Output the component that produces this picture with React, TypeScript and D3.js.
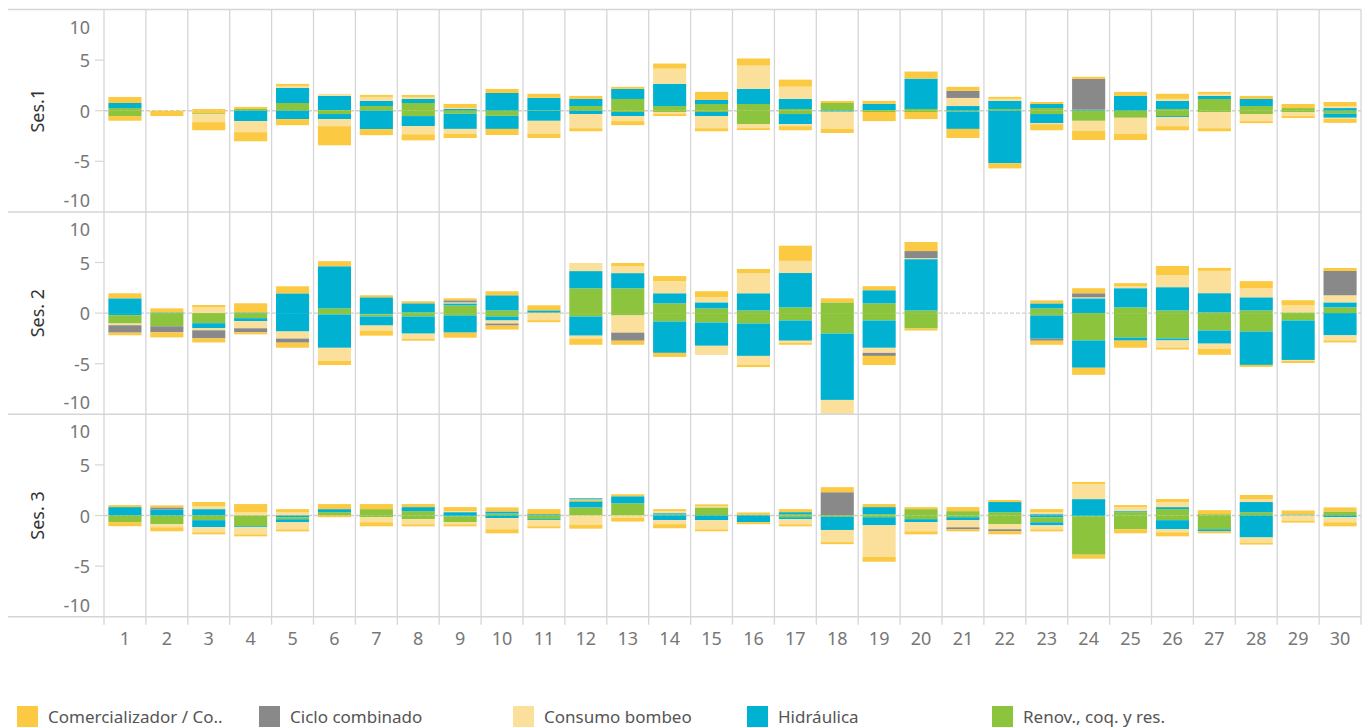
import React from "react";
import { scaleBand, scaleLinear } from "d3";

type Seg = [string, number];

const DAYS = ["1", "2", "3", "4", "5", "6", "7", "8", "9", "10", "11", "12", "13", "14", "15",
  "16", "17", "18", "19", "20", "21", "22", "23", "24", "25", "26", "27", "28", "29", "30"];
const SESSIONS = ["Ses.1", "Ses. 2", "Ses. 3"];
// C: Comercializador, G: Ciclo combinado, B: Consumo bombeo, H: Hidráulica, R: Renov.
const SERIES_KEYS = ["C", "G", "B", "H", "R"];
const SERIES_NAMES = ["Comercializador / Co..", "Ciclo combinado", "Consumo bombeo", "Hidráulica", "Renov., coq. y res."];
const Y_TICKS = [10, 5, 0, -5, -10];

// segments stacked upward from 0 (in stacking order)
const SES1_UP: Seg[][] = [
  [["R", 0.26], ["H", 0.5], ["C", 0.6]], [], [["C", 0.17]], [["R", 0.17], ["C", 0.2]],
  [["R", 0.76], ["H", 1.49], ["B", 0.2], ["C", 0.2]], [["R", 0.07], ["H", 1.39], ["B", 0.2]],
  [["R", 0.46], ["H", 0.5], ["B", 0.4], ["C", 0.2]], [["R", 0.76], ["H", 0.4], ["B", 0.2], ["C", 0.2]],
  [["H", 0.17], ["B", 0.1], ["C", 0.4]], [["H", 1.75], ["C", 0.4]], [["R", 0.07], ["H", 1.2], ["C", 0.4]],
  [["R", 0.46], ["H", 0.7], ["C", 0.3]], [["R", 1.16], ["H", 1.0], ["C", 0.2]],
  [["R", 0.46], ["H", 2.2], ["B", 1.5], ["C", 0.5]], [["R", 0.66], ["H", 0.4], ["C", 0.8]],
  [["R", 0.66], ["H", 1.5], ["B", 2.3], ["C", 0.7]], [["R", 0.17], ["H", 1.0], ["B", 1.2], ["C", 0.7]],
  [["R", 0.76], ["C", 0.2]], [["R", 0.07], ["H", 0.6], ["C", 0.3]], [["R", 0.17], ["H", 3.0], ["C", 0.7]],
  [["H", 0.46], ["B", 0.8], ["G", 0.7], ["C", 0.4]], [["R", 0.17], ["H", 0.8], ["B", 0.2], ["C", 0.2]],
  [["R", 0.26], ["H", 0.4], ["C", 0.2]], [["H", 0.1], ["G", 3.05], ["C", 0.2]], [["H", 1.46], ["C", 0.4]],
  [["R", 0.17], ["H", 0.8], ["B", 0.2], ["C", 0.5]], [["R", 1.16], ["H", 0.3], ["B", 0.2], ["C", 0.2]],
  [["R", 0.46], ["H", 0.7], ["C", 0.3]], [["R", 0.26], ["C", 0.4]], [["H", 0.26], ["B", 0.2], ["C", 0.4]],
];
// segments stacked downward from 0
const SES1_DOWN: Seg[][] = [
  [["R", 0.53], ["C", 0.46]], [["C", 0.53]], [["C", 0.26], ["R", 0.07], ["B", 0.8], ["C", 0.8]],
  [["H", 1.03], ["B", 1.09], ["C", 0.9]], [["H", 0.83], ["C", 0.6]], [["R", 0.33], ["H", 0.5], ["B", 0.7], ["C", 1.89]],
  [["H", 1.82], ["C", 0.6]], [["R", 0.53], ["H", 1.0], ["B", 0.8], ["C", 0.6]], [["R", 0.3], ["H", 1.5], ["B", 0.5], ["C", 0.4]],
  [["R", 0.5], ["H", 1.3], ["C", 0.6]], [["H", 1.0], ["B", 1.3], ["C", 0.4]], [["H", 0.33], ["B", 1.4], ["C", 0.3]],
  [["R", 0.13], ["H", 0.4], ["B", 0.5], ["C", 0.4]], [["R", 0.13], ["B", 0.2], ["C", 0.2]],
  [["R", 0.13], ["H", 0.4], ["B", 1.2], ["C", 0.3]], [["R", 1.32], ["B", 0.4], ["C", 0.2]],
  [["R", 0.33], ["H", 1.0], ["B", 0.2], ["C", 0.4]], [["H", 0.1], ["B", 1.7], ["C", 0.4]], [["R", 0.13], ["C", 0.9]],
  [["R", 0.13], ["C", 0.7]], [["R", 0.1], ["H", 1.7], ["C", 0.9]], [["H", 5.2], ["C", 0.5]],
  [["R", 0.33], ["H", 0.9], ["B", 0.1], ["C", 0.6]], [["R", 1.0], ["B", 1.0], ["C", 0.9]], [["R", 0.7], ["B", 1.6], ["C", 0.6]],
  [["R", 0.53], ["H", 0.1], ["B", 0.9], ["C", 0.4]], [["R", 0.13], ["B", 1.6], ["C", 0.3]], [["R", 0.33], ["B", 0.7], ["C", 0.2]],
  [["R", 0.13], ["B", 0.4], ["C", 0.2]], [["R", 0.3], ["H", 0.4], ["B", 0.1], ["C", 0.4]],
];

const SES2_UP: Seg[][] = [
  [["H", 1.46], ["C", 0.5]], [["H", 0.07], ["C", 0.4]], [["B", 0.6], ["C", 0.2]], [["H", 0.07], ["C", 0.9]],
  [["H", 1.95], ["C", 0.7]], [["R", 0.46], ["H", 4.17], ["C", 0.5]], [["H", 1.56], ["C", 0.2]],
  [["R", 0.07], ["H", 0.9], ["C", 0.2]], [["R", 0.76], ["H", 0.2], ["B", 0.1], ["G", 0.2], ["C", 0.2]],
  [["R", 0.26], ["H", 1.5], ["C", 0.4]], [["R", 0.07], ["H", 0.2], ["C", 0.5]], [["R", 2.45], ["H", 1.7], ["B", 0.8]],
  [["R", 2.45], ["H", 1.5], ["B", 0.7], ["C", 0.3]], [["R", 0.96], ["H", 1.0], ["B", 1.2], ["C", 0.5]],
  [["R", 0.46], ["H", 0.6], ["B", 0.5], ["C", 0.6]], [["R", 0.26], ["H", 1.7], ["B", 2.0], ["C", 0.4]],
  [["R", 0.56], ["H", 3.4], ["B", 1.2], ["C", 1.5]], [["R", 1.06], ["C", 0.4]], [["R", 0.96], ["H", 1.3], ["C", 0.4]],
  [["R", 0.26], ["H", 5.07], ["B", 0.1], ["G", 0.7], ["C", 0.9]], [], [],
  [["R", 0.46], ["H", 0.5], ["C", 0.3]], [["H", 1.46], ["B", 0.1], ["G", 0.4], ["C", 0.5]],
  [["R", 0.56], ["H", 1.9], ["B", 0.2], ["C", 0.3]], [["R", 0.26], ["H", 2.3], ["B", 1.2], ["C", 0.9]],
  [["R", 0.07], ["H", 1.9], ["B", 2.2], ["C", 0.3]], [["R", 0.26], ["H", 1.3], ["B", 0.9], ["C", 0.7]],
  [["R", 0.07], ["B", 0.7], ["C", 0.5]], [["R", 0.56], ["H", 0.5], ["B", 0.7], ["G", 2.4], ["C", 0.3]],
];
const SES2_DOWN: Seg[][] = [
  [["H", 0.2], ["R", 0.83], ["B", 0.17], ["G", 0.73], ["C", 0.26]], [["R", 1.3], ["G", 0.6], ["C", 0.5]],
  [["R", 1.0], ["H", 0.5], ["B", 0.2], ["G", 0.8], ["C", 0.4]], [["R", 0.5], ["H", 0.3], ["B", 0.7], ["G", 0.4], ["C", 0.2]],
  [["H", 1.82], ["B", 0.7], ["G", 0.4], ["C", 0.5]], [["R", 0.13], ["H", 3.3], ["B", 1.3], ["C", 0.4]],
  [["H", 0.13], ["R", 0.2], ["H", 0.9], ["B", 0.5], ["C", 0.5]], [["R", 0.33], ["H", 1.7], ["B", 0.5], ["C", 0.2]],
  [["R", 0.23], ["H", 1.7], ["C", 0.5]], [["R", 0.33], ["H", 0.4], ["B", 0.3], ["G", 0.2], ["C", 0.4]],
  [["B", 0.7], ["C", 0.2]], [["R", 0.33], ["H", 1.9], ["B", 0.3], ["C", 0.6]], [["R", 0.23], ["B", 1.7], ["G", 0.8], ["C", 0.4]],
  [["R", 0.83], ["H", 3.1], ["C", 0.4]], [["R", 0.93], ["H", 2.3], ["B", 0.9]], [["R", 1.03], ["H", 3.2], ["B", 0.9], ["C", 0.2]],
  [["R", 0.73], ["H", 2.0], ["B", 0.2], ["C", 0.2]], [["R", 2.02], ["H", 6.56], ["B", 1.6]],
  [["R", 0.73], ["H", 2.7], ["B", 0.5], ["G", 0.3], ["C", 0.9]], [["R", 1.52], ["C", 0.2]], [], [],
  [["R", 0.23], ["H", 2.3], ["G", 0.2], ["C", 0.4]], [["R", 2.7], ["H", 2.7], ["C", 0.7]], [["R", 2.42], ["H", 0.3], ["C", 0.7]],
  [["R", 2.5], ["H", 0.2], ["B", 0.7], ["C", 0.2]], [["R", 1.72], ["H", 1.3], ["B", 0.5], ["C", 0.6]],
  [["R", 1.82], ["H", 3.3], ["C", 0.2]], [["R", 0.73], ["H", 3.9], ["B", 0.1], ["C", 0.2]], [["H", 2.2], ["B", 0.5], ["C", 0.2]],
];

const SES3_UP: Seg[][] = [
  [["H", 0.83], ["C", 0.2]], [["H", 0.6], ["G", 0.2], ["C", 0.2]], [["H", 0.63], ["B", 0.3], ["C", 0.4]],
  [["B", 0.33], ["C", 0.8]], [["B", 0.33], ["C", 0.3]], [["R", 0.33], ["H", 0.3], ["C", 0.5]], [["R", 0.63], ["C", 0.5]],
  [["R", 0.43], ["H", 0.4], ["C", 0.3]], [["H", 0.33], ["B", 0.1], ["C", 0.4]], [["R", 0.2], ["H", 0.2], ["C", 0.4]],
  [["H", 0.13], ["C", 0.5]], [["R", 0.8], ["H", 0.6], ["C", 0.2], ["H", 0.1]], [["R", 1.2], ["H", 0.7], ["C", 0.2]],
  [["R", 0.1], ["H", 0.13], ["B", 0.2], ["C", 0.2]], [["R", 0.8], ["B", 0.1], ["C", 0.2]], [["R", 0.1], ["C", 0.2]],
  [["R", 0.13], ["H", 0.2], ["C", 0.3]], [["G", 2.3], ["C", 0.5]], [["R", 0.13], ["H", 0.7], ["C", 0.3]],
  [["R", 0.63], ["C", 0.2]], [["R", 0.43], ["C", 0.4]], [["R", 0.33], ["H", 1.0], ["C", 0.2]],
  [["H", 0.13], ["B", 0.2], ["C", 0.3]], [["H", 1.62], ["B", 1.5], ["C", 0.2]], [["R", 0.33], ["H", 0.1], ["B", 0.4], ["C", 0.2]],
  [["R", 0.63], ["H", 0.2], ["B", 0.5], ["C", 0.3]], [["R", 0.13], ["C", 0.4]], [["R", 0.33], ["H", 1.0], ["B", 0.3], ["C", 0.4]],
  [["H", 0.1], ["C", 0.4]], [["R", 0.4], ["C", 0.4]],
];
const SES3_DOWN: Seg[][] = [
  [["R", 0.66], ["C", 0.4]], [["R", 0.86], ["B", 0.3], ["C", 0.4]], [["R", 0.46], ["H", 0.7], ["B", 0.5], ["C", 0.2]],
  [["R", 1.06], ["H", 0.1], ["B", 0.7], ["C", 0.2]], [["H", 0.17], ["R", 0.2], ["H", 0.3], ["B", 0.7], ["C", 0.2]],
  [["C", 0.17]], [["R", 0.17], ["B", 0.5], ["C", 0.4]], [["R", 0.37], ["B", 0.5], ["C", 0.2]],
  [["H", 0.07], ["R", 0.6], ["B", 0.2], ["C", 0.2]], [["H", 0.26], ["B", 1.1], ["C", 0.4]],
  [["R", 0.36], ["H", 0.1], ["B", 0.6], ["C", 0.2]], [["B", 0.9], ["C", 0.4]], [["B", 0.2], ["C", 0.4]],
  [["H", 0.46], ["B", 0.4], ["C", 0.4]], [["H", 0.46], ["B", 0.9], ["C", 0.2]], [["H", 0.66], ["C", 0.2]],
  [["R", 0.17], ["H", 0.2], ["B", 0.5], ["C", 0.2]], [["R", 0.13], ["H", 1.3], ["B", 1.2], ["C", 0.2]],
  [["R", 0.17], ["H", 0.8], ["B", 3.1], ["C", 0.5]], [["R", 0.36], ["H", 0.3], ["B", 0.9], ["C", 0.3]],
  [["R", 0.17], ["H", 0.3], ["B", 0.7], ["G", 0.2], ["C", 0.2]], [["R", 0.86], ["B", 0.5], ["G", 0.2], ["C", 0.3]],
  [["H", 0.17], ["R", 0.5], ["H", 0.3], ["B", 0.4], ["C", 0.2]], [["H", 0.07], ["R", 3.8], ["C", 0.4]],
  [["R", 1.36], ["C", 0.4]], [["R", 0.46], ["H", 0.9], ["B", 0.3], ["C", 0.4]], [["R", 1.36], ["H", 0.2], ["C", 0.2]],
  [["H", 2.17], ["B", 0.5], ["C", 0.2]], [["B", 0.5], ["C", 0.2]], [["H", 0.17], ["B", 0.5], ["C", 0.4]],
];

const UP = [SES1_UP, SES2_UP, SES3_UP];
const DOWN = [SES1_DOWN, SES2_DOWN, SES3_DOWN];

const COLORS: Record<string, string> = {
  C: "#FCC942",
  G: "#898989",
  B: "#FAE09A",
  H: "#00B1D1",
  R: "#8CC43D",
};
const LEGEND_X = [17, 259, 513, 747, 992];

const W = 1369;
const H = 728;
const LEFT = 104;
const RIGHT = 1361;
const TOP = 9.5;
const PANEL_H = 202.4;
const GRID = "#d6d6d6";
const FONT = "'Noto Sans', 'Open Sans', sans-serif";

export default function App() {
  const cols = scaleBand<string>().domain(DAYS).range([LEFT, RIGHT]);
  const x = scaleBand<string>()
    .domain(DAYS)
    .range([LEFT, RIGHT])
    .paddingInner(0.21)
    .paddingOuter(0.105);
  const bottom = TOP + SESSIONS.length * PANEL_H;

  return (
    <svg
      width={W}
      height={H}
      style={{ position: "absolute", left: 0, top: 0, fontFamily: FONT, background: "#fff" }}
    >
      {SESSIONS.map((ses, p) => {
        const t = TOP + p * PANEL_H;
        const y = scaleLinear().domain([-10, 10]).range([t + PANEL_H, t]);
        return (
          <g key={ses}>
            <defs>
              <clipPath id={`clip${p}`}>
                <rect x={LEFT} y={t} width={RIGHT - LEFT} height={PANEL_H} />
              </clipPath>
            </defs>
            {/* column gridlines */}
            {DAYS.map((d) => (
              <line key={d} x1={cols(d)} x2={cols(d)} y1={t} y2={t + PANEL_H} stroke={GRID} strokeWidth={1.3} />
            ))}
            <line x1={RIGHT} x2={RIGHT} y1={t} y2={t + PANEL_H} stroke={GRID} strokeWidth={1.3} />
            {/* zero line */}
            <line
              x1={LEFT}
              x2={RIGHT}
              y1={y(0)}
              y2={y(0)}
              stroke="#cfcfcf"
              strokeWidth={1.4}
              strokeDasharray="4,2"
            />
            {/* bars */}
            <g clipPath={`url(#clip${p})`}>
              {DAYS.map((d, i) => {
                let acc = 0;
                const ups = UP[p][i].map(([k, v], j) => {
                  const y0 = acc;
                  acc += v;
                  return (
                    <rect key={`u${j}`} x={x(d)} width={x.bandwidth()} y={y(acc)} height={y(y0) - y(acc)} fill={COLORS[k]} />
                  );
                });
                acc = 0;
                const downs = DOWN[p][i].map(([k, v], j) => {
                  const y0 = acc;
                  acc -= v;
                  return (
                    <rect key={`d${j}`} x={x(d)} width={x.bandwidth()} y={y(y0)} height={y(acc) - y(y0)} fill={COLORS[k]} />
                  );
                });
                return (
                  <g key={d}>
                    {ups}
                    {downs}
                  </g>
                );
              })}
            </g>
            {/* y axis */}
            {Y_TICKS.map((v) => {
              const ly = Math.min(Math.max(y(v), t + 17), t + PANEL_H - 12);
              return (
                <g key={v}>
                  {Math.abs(v) < 10 && (
                    <line x1={95} x2={LEFT} y1={y(v)} y2={y(v)} stroke={GRID} strokeWidth={1.2} />
                  )}
                  <text x={90} y={ly} textAnchor="end" dominantBaseline="central" fontSize={18} fill="#777">
                    {v}
                  </text>
                </g>
              );
            })}
            <text
              transform={`translate(37,${y(0)}) rotate(-90)`}
              textAnchor="middle"
              dominantBaseline="central"
              fontSize={18}
              fill="#333"
            >
              {ses}
            </text>
            <line x1={8} x2={RIGHT} y1={t} y2={t} stroke={GRID} strokeWidth={1.5} />
          </g>
        );
      })}
      {/* bottom axis */}
      <line x1={8} x2={RIGHT} y1={bottom} y2={bottom} stroke={GRID} strokeWidth={1.5} />
      {DAYS.map((d) => (
        <g key={d}>
          <line x1={cols(d)} x2={cols(d)} y1={bottom} y2={bottom + 8} stroke={GRID} strokeWidth={1.3} />
          <text
            x={(cols(d) ?? 0) + cols.bandwidth() / 2}
            y={bottom + 21}
            textAnchor="middle"
            dominantBaseline="central"
            fontSize={18}
            fill="#777"
          >
            {d}
          </text>
        </g>
      ))}
      <line x1={RIGHT} x2={RIGHT} y1={bottom} y2={bottom + 8} stroke={GRID} strokeWidth={1.3} />
      {/* legend */}
      {SERIES_KEYS.map((k, i) => (
        <g key={k} transform={`translate(${LEGEND_X[i]},706)`}>
          <rect width={21} height={21} fill={COLORS[k]} />
          <text x={31} y={10} dominantBaseline="central" fontSize={17} fill="#555">
            {SERIES_NAMES[i]}
          </text>
        </g>
      ))}
    </svg>
  );
}
